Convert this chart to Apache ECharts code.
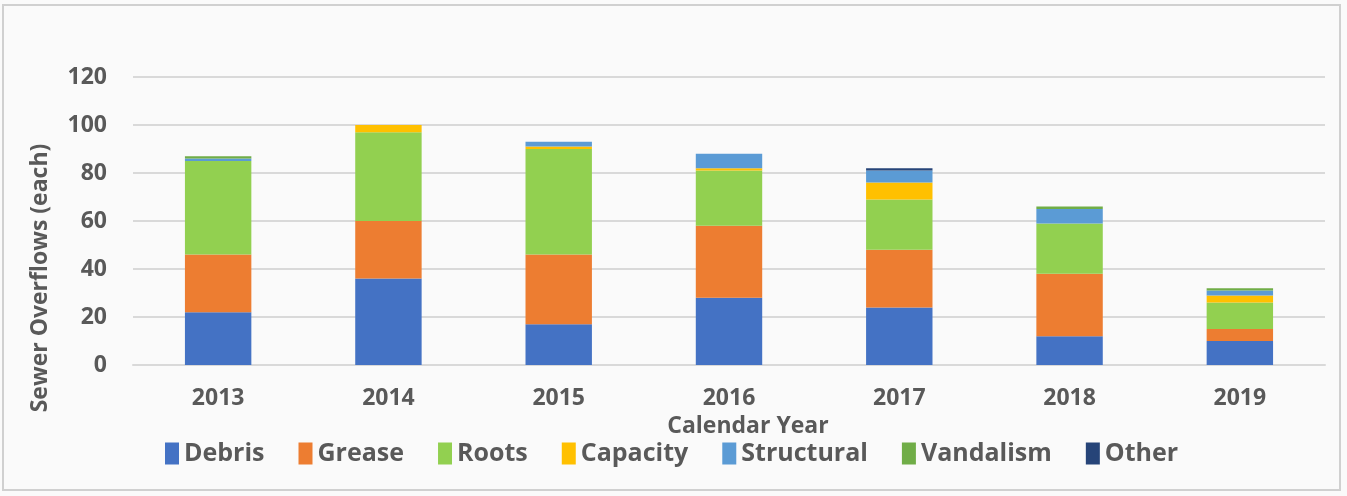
<!DOCTYPE html>
<html>
<head>
<meta charset="utf-8">
<script src="https://cdn.jsdelivr.net/npm/echarts@6/dist/echarts.min.js"></script>
<style>
  html, body { margin: 0; padding: 0; background: #fafafa; }
  #main { width: 1347px; height: 496px; }
</style>
</head>
<body>
<div id="main"></div>
<script>
// years on the x axis
const years = ["2013", "2014", "2015", "2016", "2017", "2018", "2019"];

// overflow counts per cause, stacked
const debris     = [22, 36, 17, 28, 24, 12, 10];
const grease     = [24, 24, 29, 30, 24, 26, 5];
const roots      = [39, 37, 44, 23, 21, 21, 11];
const capacity   = [0, 3, 1, 1, 7, 0, 3];
const structural = [1, 0, 2, 6, 5, 6, 2];
const vandalism  = [1, 0, 0, 0, 0, 1, 1];
const other      = [0, 0, 0, 0, 1, 0, 0];

const yTicks = [0, 20, 40, 60, 80, 100, 120];

const seriesDefs = [
  { name: "Debris", data: debris, color: "#4472C4" },
  { name: "Grease", data: grease, color: "#ED7D31" },
  { name: "Roots", data: roots, color: "#92D050" },
  { name: "Capacity", data: capacity, color: "#FFC000" },
  { name: "Structural", data: structural, color: "#5B9BD5" },
  { name: "Vandalism", data: vandalism, color: "#70AD47" },
  { name: "Other", data: other, color: "#264478" }
];

const font = "'Open Sans', sans-serif";
const textColor = "#595959";

const chart = echarts.init(document.getElementById("main"));

const option = {
  backgroundColor: "#fafafa",
  animation: false,
  graphic: [
    {
      type: "rect",
      shape: { x: 3, y: 5, width: 1337, height: 485 },
      style: { fill: "none", stroke: "#d0d0d0", lineWidth: 2 },
      silent: true
    },
    {
      // y axis title, rotated
      type: "text",
      x: 40,
      y: 278,
      rotation: Math.PI / 2,
      style: {
        text: "Sewer Overflows (each)",
        fill: textColor,
        font: "bold 23px " + font,
        align: "center",
        verticalAlign: "middle"
      }
    }
  ],
  grid: {
    left: 133,
    right: 22,
    top: 77,
    bottom: 131
  },
  legend: {
    left: 160,
    top: 436,
    itemWidth: 14,
    itemHeight: 22,
    itemGap: 34,
    icon: "rect",
    textStyle: {
      color: textColor,
      fontFamily: font,
      fontWeight: "bold",
      fontSize: 25
    },
    data: seriesDefs.map(s => s.name)
  },
  xAxis: {
    type: "category",
    data: years,
    name: "Calendar Year",
    nameLocation: "middle",
    nameGap: 50,
    nameTextStyle: {
      color: textColor,
      fontFamily: font,
      fontWeight: "bold",
      fontSize: 23,
      padding: [0, 0, 0, 38]
    },
    axisLine: { lineStyle: { color: "#d9d9d9", width: 2 } },
    axisTick: { show: false },
    axisLabel: {
      color: textColor,
      fontFamily: font,
      fontWeight: "bold",
      fontSize: 23,
      margin: 22
    }
  },
  yAxis: {
    type: "value",
    min: yTicks[0],
    max: yTicks[yTicks.length - 1],
    interval: 20,
    axisLine: { show: false },
    axisTick: { show: false },
    splitLine: { lineStyle: { color: "#d9d9d9", width: 2 } },
    axisLabel: {
      color: textColor,
      fontFamily: font,
      fontWeight: "bold",
      fontSize: 23,
      margin: 26
    }
  },
  series: seriesDefs.map(s => ({
    name: s.name,
    type: "bar",
    stack: "total",
    barWidth: "39%",
    data: s.data,
    itemStyle: { color: s.color }
  }))
};

chart.setOption(option);
</script>
</body>
</html>
